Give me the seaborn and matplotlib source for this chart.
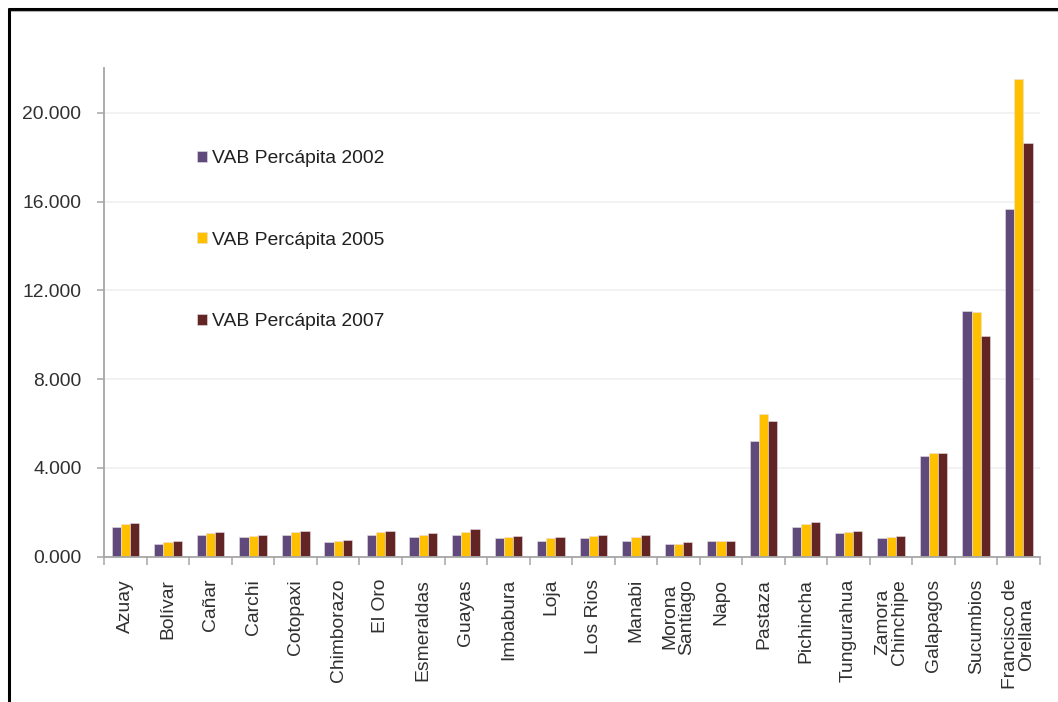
import numpy as np
import pandas as pd
import matplotlib
matplotlib.use("Agg")
import matplotlib.pyplot as plt
from matplotlib.lines import Line2D
from matplotlib.ticker import FixedLocator
import seaborn as sns

provinces = ["Azuay", "Bolívar", "Cañar", "Carchi", "Cotopaxi", "Chimborazo", "El Oro",
             "Esmeraldas", "Guayas", "Imbabura", "Loja", "Los Rios", "Manabi",
             "Morona\nSantiago", "Napo", "Pastaza", "Pichincha", "Tungurahua",
             "Zamora\nChinchipe", "Galapagos", "Sucumbios", "Francisco de\nOrellana"]
vab_2002 = [1340, 590, 1000, 880, 1000, 640, 1000, 880, 1000, 820, 700,
            820, 700, 590, 700, 5200, 1330, 1050, 820, 4550, 11080, 15670]
vab_2005 = [1480, 650, 1060, 940, 1110, 700, 1110, 990, 1110, 880, 820,
            940, 880, 590, 700, 6410, 1470, 1100, 880, 4650, 11020, 21530]
vab_2007 = [1520, 700, 1110, 1000, 1170, 760, 1170, 1050, 1230, 930, 880,
            1000, 1000, 650, 700, 6120, 1580, 1170, 940, 4650, 9930, 18630]
series_names = ["VAB Percápita 2002", "VAB Percápita 2005", "VAB Percápita 2007"]
colors = ["#604A7B", "#FFC000", "#632523"]
ytick_values = [0, 4000, 8000, 12000, 16000, 20000]
ytick_labels = ["0.000", "4.000", "8.000", "12.000", "16.000", "20.000"]

df = pd.DataFrame({
    "Provincia": provinces * 3,
    "Serie": sum([[s] * len(provinces) for s in series_names], []),
    "Valor": vab_2002 + vab_2005 + vab_2007,
})

sns.set_style("white")
plt.rcParams["font.family"] = ["Liberation Sans", "DejaVu Sans"]

FS = 13.9

fig = plt.figure(figsize=(10.58, 7.02), dpi=100)
ax = fig.add_axes([104.3 / 1058, 1 - 556.7 / 702, (1040 - 104.3) / 1058, (556.7 - 68.3) / 702])

sns.barplot(data=df, x="Provincia", y="Valor", hue="Serie", hue_order=series_names,
            palette=colors, width=0.65, saturation=1, edgecolor="#E8E0E8", linewidth=0.4,
            ax=ax, legend=True)

ax.set_ylim(0, 22000)
ax.set_xlim(-0.5, len(provinces) - 0.5)
ax.set_xlabel("")
ax.set_ylabel("")
ax.set_yticks(ytick_values)
ax.set_yticklabels(ytick_labels, fontsize=FS, color="#303030")
ax.yaxis.grid(True, color="#F0F0F0", linewidth=1.2)
ax.set_axisbelow(True)

ax.set_xticks(range(len(provinces)))
ax.set_xticklabels(provinces, rotation=90, fontsize=FS, color="#303030",
                   va="top", ha="center", multialignment="center", linespacing=0.95)
ax.tick_params(axis="x", which="major", length=0, pad=16)
ax.xaxis.set_minor_locator(FixedLocator(np.arange(-0.5, len(provinces), 1.0)))
ax.tick_params(axis="x", which="minor", length=6, width=1.1, color="#A6A6A6", bottom=True)
ax.tick_params(axis="y", which="major", length=5, width=1.1, color="#A6A6A6", left=True, pad=11.5)

for side in ["top", "right"]:
    ax.spines[side].set_visible(False)
for side in ["left", "bottom"]:
    ax.spines[side].set_color("#A6A6A6")
    ax.spines[side].set_linewidth(1.3)

leg = ax.legend(loc="upper left", bbox_to_anchor=(197 / 1058, 1 - 150 / 702),
                bbox_transform=fig.transFigure, frameon=False, fontsize=FS,
                labelspacing=3.35, handlelength=0.5, handleheight=0.5,
                handletextpad=0.3, borderpad=0, borderaxespad=0)
for t in leg.get_texts():
    t.set_color("#202020")

# outer frame lines (top and left) like the original slide border
fig.add_artist(Line2D([9 / 1058, 9 / 1058], [0, 1 - 9 / 702], transform=fig.transFigure,
                      color="black", linewidth=2.2))
fig.add_artist(Line2D([9 / 1058, 1], [1 - 9 / 702, 1 - 9 / 702], transform=fig.transFigure,
                      color="black", linewidth=2.2))
fig.add_artist(Line2D([11 / 1058, 1], [1 - 11 / 702, 1 - 11 / 702], transform=fig.transFigure,
                      color="#B0B0B0", linewidth=0.8))

fig.savefig("out.png", dpi=100, facecolor="white")
